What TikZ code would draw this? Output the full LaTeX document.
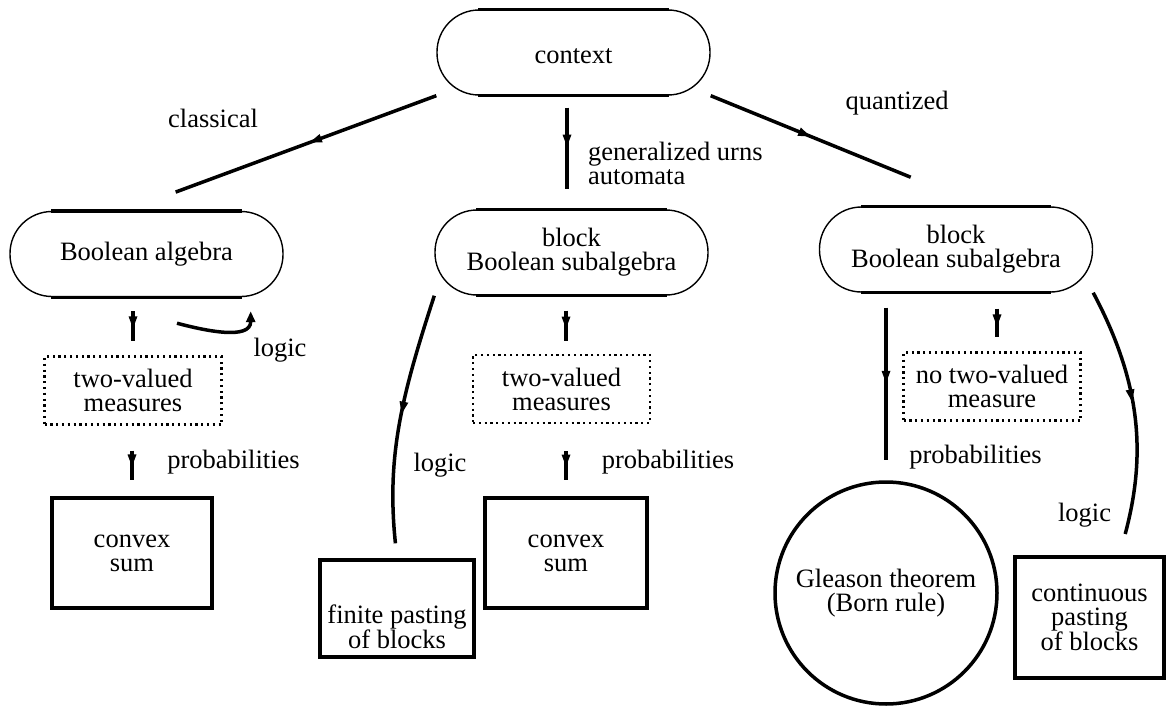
\documentclass[tikz,border=0pt]{standalone}
\usepackage{fontspec}
\setmainfont{Liberation Serif}
\usetikzlibrary{arrows.meta,decorations.markings}

\begin{document}
\begin{tikzpicture}
[
x=1pt, y=1pt,
every node/.style={font=\fontsize{26.5pt}{24pt}\selectfont, align=center, inner sep=0pt},
stadium/.style={draw, line width=1.4pt, rounded corners=42pt, minimum width=273pt, minimum height=85pt},
dotbox/.style={draw, line width=2.2pt, dash pattern=on 2.2pt off 3.6pt, minimum width=177pt, minimum height=68pt},
resbox/.style={draw, line width=3.5pt},
conn/.style={line width=3.5pt, postaction={decorate},
  decoration={markings, mark=at position #1 with {\fill (2,0) -- (-10,4.5) -- (-10,-4.5) -- cycle;}}},
conn/.default=0.5
]
\useasboundingbox (0,0) rectangle (1168,-709);

\node[stadium, text height=22pt, text depth=0pt] (ctx) at (573.5,-52.5) {context};
\node[stadium] (bool) at (146.5,-254) {Boolean algebra};
\node[stadium] (blockm) at (571.5,-252.5) {block\\Boolean subalgebra};
\node[stadium] (blockq) at (956,-249.5) {block\\Boolean subalgebra};

\node[dotbox] (tvl) at (133,-390.5) {two-valued\\measures};
\node[dotbox] (tvm) at (561.5,-389) {two-valued\\measures};
\node[dotbox] (ntv) at (992,-386.5) {no two-valued\\measure};

\node[resbox, minimum width=160pt, minimum height=110pt] (cvl) at (132,-553) {convex\\sum};
\node[resbox, minimum width=162pt, minimum height=110pt] (cvm) at (566,-553) {convex\\sum};
\node[resbox, minimum width=154pt, minimum height=97pt] (fin) at (397,-608.5) {\rule{0pt}{55pt}finite pasting\\of blocks};
\node[resbox, circle, minimum size=222pt] (gleason) at (886,-593) {Gleason theorem\\(Born rule)};
\node[resbox, minimum width=149pt, minimum height=121pt] (cont) at (1089.5,-617.5) {continuous\\pasting\\of blocks};

% labels
\node (lclass) at (213,-118) {classical};
\node[align=left, anchor=west] (lgen) at (588,-163) {generalized urns\\automata};
\node (lquant) at (897,-103) {quantized};
\node (llogl) at (280,-350) {logic};
\node (lprobl) at (233.5,-462) {probabilities};
\node (llogm) at (440,-465) {logic};
\node (lprobm) at (668,-462) {probabilities};
\node (lprobq) at (975.5,-457) {probabilities};
\node (llogq) at (1084.5,-515) {logic};

\foreach \n in {ctx,bool,blockm,blockq}{
  \draw[line width=3.4pt] ([xshift=42pt]\n.north west) -- ([xshift=-42pt]\n.north east);
  \draw[line width=3.4pt] ([xshift=42pt]\n.south west) -- ([xshift=-42pt]\n.south east);
}

% top level
\draw[conn=0.4, shorten >=54pt] (ctx.south west) -- ([xshift=-21.5pt]bool.north);
\draw[conn=0.43, shorten <=12pt, shorten >=20pt] ([xshift=-6.5pt]ctx.south) -- ([xshift=-4.5pt]blockm.north);
\draw[conn=0.36, shorten >=77pt] (ctx.south east) -- ([xshift=26pt]blockq.north);

% classical
\draw[conn=0.5, shorten <=14pt, shorten >=14pt] (bool.south -| tvl.north) -- (tvl.north);
\draw[conn=0.55, shorten <=25pt, shorten >=16pt] (tvl.south -| cvl.north) -- (cvl.north);
\draw[line width=3.5pt, -{Triangle[length=11pt,width=9pt]}] ([shift={(30.5,-26)}]bool.south) to[out=-15,in=-90] ([shift={(-33,-14)}]bool.south east);

% generalized urns
\draw[conn=0.53, shorten <=15pt, shorten >=13pt] (blockm.south -| cvm.north) -- (tvm.north -| cvm.north);
\draw[conn=0.56, shorten <=27pt, shorten >=16pt] (tvm.south -| cvm.north) -- (cvm.north);
\draw[conn=0.45, shorten >=15pt] (blockm.south west) to[out=-108,in=96] (fin.north);

% quantized
\draw[conn=0.54, shorten <=16pt, shorten >=14pt] ([xshift=5pt]blockq.south -| ntv.north) -- ([xshift=5pt]ntv.north);
\draw[conn=0.47, shorten <=15pt, shorten >=20pt] (blockq.south -| gleason.north) -- (gleason.north);
\draw[conn=0.42, shorten >=22pt] (blockq.south east) to[out=-62,in=75] ([xshift=30pt]cont.north);
\end{tikzpicture}
\end{document}
